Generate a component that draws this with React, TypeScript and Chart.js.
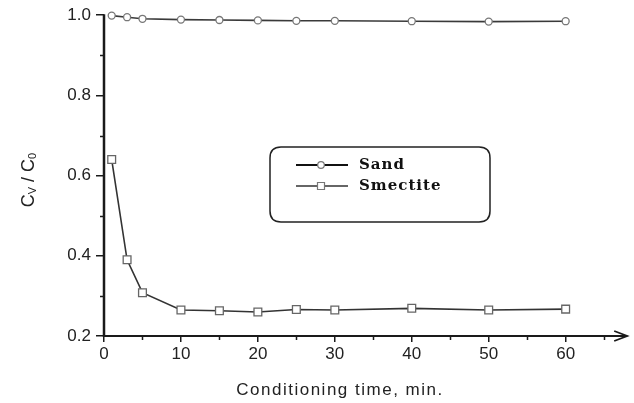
import React, { useEffect, useRef } from "react";
import { Chart, registerables } from "chart.js";

Chart.register(...registerables);

const times = [1, 3, 5, 10, 15, 20, 25, 30, 40, 50, 60];
const sandValues = [0.999, 0.995, 0.991, 0.989, 0.988, 0.987, 0.986, 0.986, 0.985, 0.984, 0.985];
const smectiteValues = [0.64, 0.39, 0.308, 0.265, 0.263, 0.26, 0.266, 0.265, 0.269, 0.265, 0.267];
const xTicks = [0, 10, 20, 30, 40, 50, 60];
const xMinorTicks = [5, 15, 25, 35, 45, 55, 65];
const yTicks = [0.2, 0.4, 0.6, 0.8, 1.0];
const yMinorTicks = [0.3, 0.5, 0.7, 0.9];
const seriesNames = ["Sand", "Smectite"];
const xTitle = "Conditioning time, min.";

const AXIS = "#1a1a1a";

const decorPlugin = {
  id: "decor",
  afterDraw(chart: any) {
    const ctx = chart.ctx as CanvasRenderingContext2D;
    const xs = chart.scales.x;
    const ys = chart.scales.y;
    const area = chart.chartArea;
    ctx.save();
    // axes lines
    ctx.strokeStyle = AXIS;
    ctx.lineWidth = 2.5;
    ctx.beginPath();
    ctx.moveTo(area.left, area.top - 1);
    ctx.lineTo(area.left, area.bottom + 1);
    ctx.stroke();
    ctx.lineWidth = 2;
    ctx.beginPath();
    ctx.moveTo(area.left, area.bottom);
    ctx.lineTo(area.right, area.bottom);
    ctx.stroke();
    // arrow
    ctx.lineWidth = 1.8;
    ctx.beginPath();
    ctx.moveTo(area.right - 13, area.bottom - 5);
    ctx.lineTo(area.right, area.bottom);
    ctx.lineTo(area.right - 13, area.bottom + 5);
    ctx.stroke();
    // minor ticks
    ctx.lineWidth = 1.5;
    ctx.beginPath();
    for (const v of xMinorTicks) {
      const px = Math.round(xs.getPixelForValue(v)) + 0.5;
      ctx.moveTo(px, area.bottom);
      ctx.lineTo(px, area.bottom + 4);
    }
    for (const v of yMinorTicks) {
      const py = Math.round(ys.getPixelForValue(v)) + 0.5;
      ctx.moveTo(area.left, py);
      ctx.lineTo(area.left - 4, py);
    }
    ctx.stroke();

    // x title
    ctx.fillStyle = "#222";
    ctx.font = "17px 'Liberation Sans', Arial, sans-serif";
    (ctx as any).letterSpacing = "1.5px";
    ctx.textAlign = "center";
    ctx.textBaseline = "middle";
    ctx.fillText(xTitle, 340, 390);
    (ctx as any).letterSpacing = "0px";

    // y title with subscripts
    ctx.save();
    ctx.translate(29, 180);
    ctx.rotate(-Math.PI / 2);
    const big = "18px 'Liberation Sans', Arial, sans-serif";
    const small = "11px 'Liberation Sans', Arial, sans-serif";
    const parts: [string, string, number][] = [
      ["C", big, 0],
      ["V", small, 4],
      [" / ", big, 0],
      ["C", big, 0],
      ["0", small, 4],
    ];
    let total = 0;
    for (const [t, f] of parts) {
      ctx.font = f;
      total += ctx.measureText(t).width;
    }
    let cx = -total / 2;
    ctx.textAlign = "left";
    ctx.textBaseline = "middle";
    for (const [t, f, dy] of parts) {
      ctx.font = f;
      ctx.fillText(t, cx, dy);
      cx += ctx.measureText(t).width;
    }
    ctx.restore();

    // legend box
    const bx = 270, by = 147, bw = 220, bh = 75, r = 11;
    ctx.strokeStyle = "#222";
    ctx.lineWidth = 1.5;
    ctx.beginPath();
    ctx.moveTo(bx + r, by);
    ctx.lineTo(bx + bw - r, by);
    ctx.quadraticCurveTo(bx + bw, by, bx + bw, by + r);
    ctx.lineTo(bx + bw, by + bh - r);
    ctx.quadraticCurveTo(bx + bw, by + bh, bx + bw - r, by + bh);
    ctx.lineTo(bx + r, by + bh);
    ctx.quadraticCurveTo(bx, by + bh, bx, by + bh - r);
    ctx.lineTo(bx, by + r);
    ctx.quadraticCurveTo(bx, by, bx + r, by);
    ctx.stroke();

    const rows = [
      { name: seriesNames[0], y: 165, line: "#111", marker: "circle" },
      { name: seriesNames[1], y: 186, line: "#666", marker: "square" },
    ];
    for (const row of rows) {
      ctx.strokeStyle = row.line;
      ctx.lineWidth = 1.8;
      ctx.beginPath();
      ctx.moveTo(296, row.y);
      ctx.lineTo(348, row.y);
      ctx.stroke();
      ctx.fillStyle = "#fff";
      ctx.strokeStyle = "#777";
      ctx.lineWidth = 1.2;
      ctx.beginPath();
      if (row.marker === "circle") {
        ctx.arc(321, row.y, 3.3, 0, Math.PI * 2);
      } else {
        ctx.rect(317.5, row.y - 3.5, 7, 7);
      }
      ctx.fill();
      ctx.stroke();
      ctx.fillStyle = "#111";
      ctx.font = "bold 15px 'DejaVu Serif', serif";
      (ctx as any).letterSpacing = "1px";
      ctx.textAlign = "left";
      ctx.textBaseline = "middle";
      ctx.fillText(row.name, 359, row.y);
      (ctx as any).letterSpacing = "0px";
    }
    ctx.restore();
  },
};

export default function App() {
  const ref = useRef<HTMLCanvasElement | null>(null);
  useEffect(() => {
    if (!ref.current) return;
    const chart = new Chart(ref.current, {
      type: "line",
      data: {
        datasets: [
          {
            label: seriesNames[0],
            data: times.map((t, i) => ({ x: t, y: sandValues[i] })),
            borderColor: "#3a3a3a",
            borderWidth: 1.6,
            pointStyle: "circle",
            pointRadius: 3.5,
            pointBackgroundColor: "#fff",
            pointBorderColor: "#777",
            pointBorderWidth: 1.3,
            clip: false as any,
          },
          {
            label: seriesNames[1],
            data: times.map((t, i) => ({ x: t, y: smectiteValues[i] })),
            borderColor: "#333",
            borderWidth: 1.6,
            pointStyle: "rect",
            pointRadius: 5.5,
            pointBackgroundColor: "#fff",
            pointBorderColor: "#666",
            pointBorderWidth: 1.3,
            clip: false as any,
          },
        ],
      },
      options: {
        animation: false,
        responsive: false,
        layout: { padding: { top: 15, right: 6, left: 0, bottom: 0 } },
        plugins: { legend: { display: false }, tooltip: { enabled: false } },
        scales: {
          x: {
            type: "linear",
            min: 0,
            max: 68,
            afterBuildTicks: (s: any) => {
              s.ticks = xTicks.map((v) => ({ value: v }));
            },
            afterFit: (s: any) => {
              s.height = 67;
            },
            grid: {
              display: true,
              drawOnChartArea: false,
              drawTicks: true,
              tickLength: 6,
              color: AXIS,
              lineWidth: 1.5,
            },
            border: { display: false },
            ticks: {
              color: "#222",
              padding: 2,
              maxRotation: 0,
              font: { family: "'Liberation Sans', Arial, sans-serif", size: 17 },
            },
          },
          y: {
            type: "linear",
            min: 0.2,
            max: 1.0,
            afterBuildTicks: (s: any) => {
              s.ticks = yTicks.map((v) => ({ value: v }));
            },
            afterFit: (s: any) => {
              s.width = 104;
            },
            grid: {
              display: true,
              drawOnChartArea: false,
              drawTicks: true,
              tickLength: 8,
              color: AXIS,
              lineWidth: 1.5,
            },
            border: { display: false },
            ticks: {
              color: "#222",
              padding: 5,
              font: { family: "'Liberation Sans', Arial, sans-serif", size: 17 },
              callback: (v: any) => Number(v).toFixed(1),
            },
          },
        },
      },
      plugins: [decorPlugin],
    });
    return () => chart.destroy();
  }, []);
  return (
    <div style={{ position: "fixed", left: 0, top: 0, width: 634, height: 403, background: "#fff" }}>
      <canvas ref={ref} width={634} height={403} style={{ width: 634, height: 403, display: "block" }} />
    </div>
  );
}
